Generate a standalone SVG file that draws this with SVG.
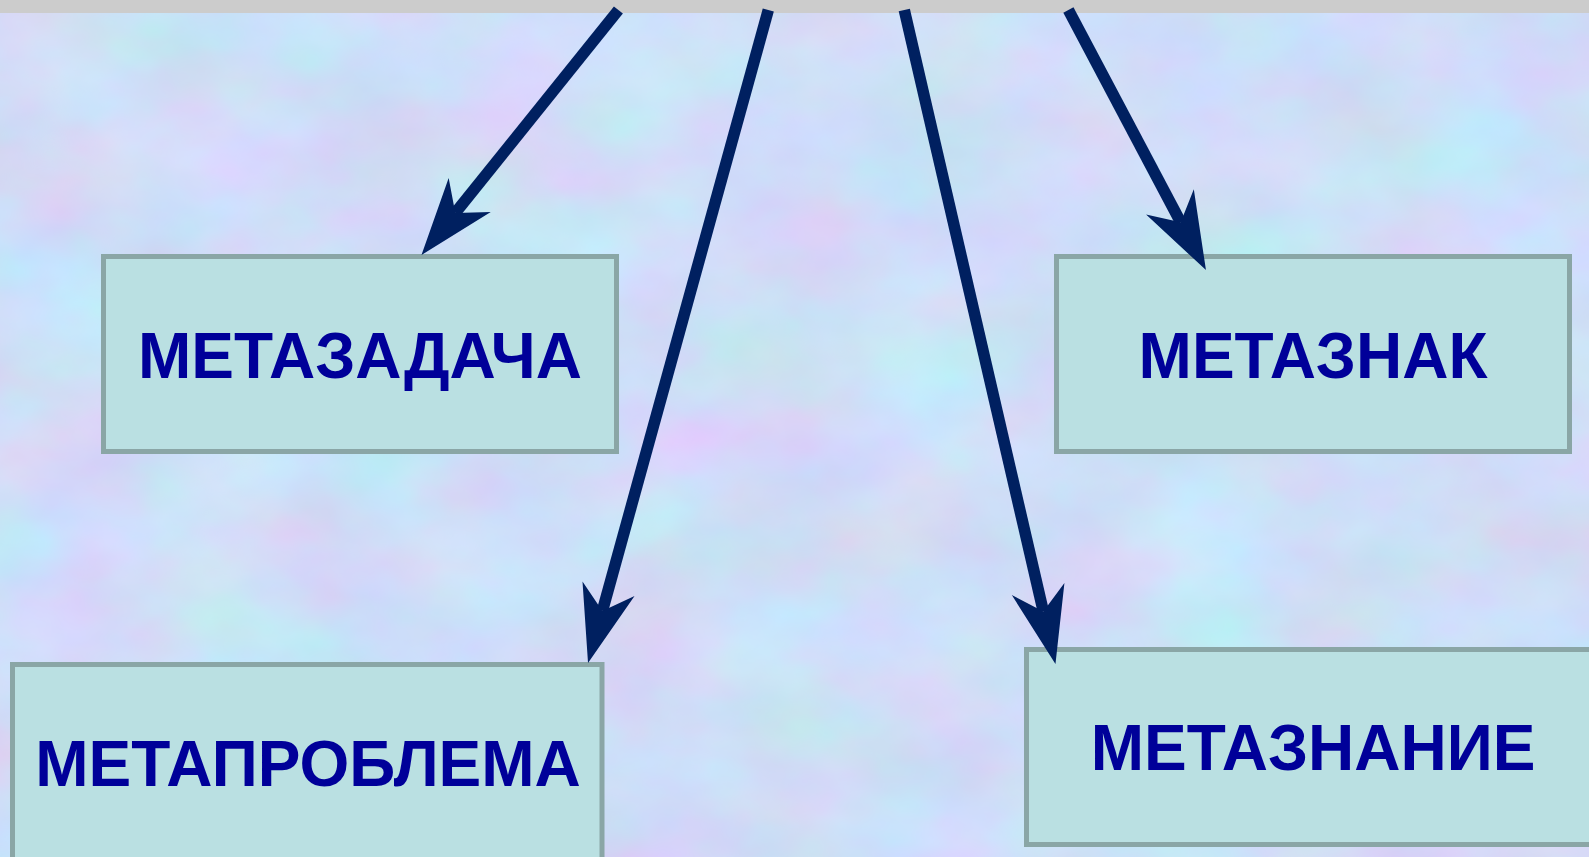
<svg xmlns="http://www.w3.org/2000/svg" width="1589" height="857" viewBox="0 0 1589 857">
  <style>
    .box { fill: #bae0e2; stroke: #8aa6a6; stroke-width: 5; }
    .lbl { font-family: "Liberation Sans", Arial, sans-serif; font-weight: bold; font-size: 64px; fill: #000099; text-anchor: middle; }
    .conn { stroke: #002060; stroke-width: 11.5; fill: none; marker-end: url(#stealth); }
  </style>
  <defs>
    <filter id="tex" x="0" y="0" width="1589" height="857" filterUnits="userSpaceOnUse" color-interpolation-filters="sRGB">
      <feTurbulence type="fractalNoise" baseFrequency="0.007 0.01" numOctaves="4" seed="11" result="n"/>
      <feColorMatrix in="n" type="matrix" values="0.16 -0.08 0 0 0.77  -0.06 0.16 0 0 0.82  0 0 0.1 0 0.92  0 0 0 0 1"/>
    </filter>
    <marker id="stealth" markerUnits="userSpaceOnUse" orient="auto" refX="0" refY="0" viewBox="-25 -29 82 58" markerWidth="82" markerHeight="58" overflow="visible">
      <path d="M54,0 L-23,-27 L0,0 L-23,27 Z" fill="#002060"/>
    </marker>
  </defs>

  <rect x="0" y="0" width="1589" height="857" fill="#cfdcf8"/>
  <rect x="0" y="0" width="1589" height="857" filter="url(#tex)"/>
  <rect x="0" y="0" width="1589" height="13" fill="#cccccc"/>

  <g id="node-metazadacha">
    <rect class="box" x="103.5" y="256.5" width="513" height="195"/>
    <text class="lbl" x="360" y="378">МЕТАЗАДАЧА</text>
  </g>
  <g id="node-metaznak">
    <rect class="box" x="1056.5" y="256.5" width="513" height="195"/>
    <text class="lbl" x="1313" y="378">МЕТАЗНАК</text>
  </g>
  <g id="node-metaproblema">
    <rect class="box" x="12.5" y="664.5" width="589.5" height="250"/>
    <text class="lbl" x="308" y="786">МЕТАПРОБЛЕМА</text>
  </g>
  <g id="node-metaznanie">
    <rect class="box" x="1026.5" y="649.5" width="600" height="195"/>
    <text class="lbl" x="1313" y="770">МЕТАЗНАНИЕ</text>
  </g>

  <g id="connectors">
    <line class="conn" x1="618.4" y1="10" x2="455.3" y2="212.9"/>
    <line class="conn" x1="768.3" y1="10" x2="602.4" y2="610.9"/>
    <line class="conn" x1="904.3" y1="10" x2="1043.3" y2="611.4"/>
    <line class="conn" x1="1068.4" y1="10" x2="1180.7" y2="222.3"/>
  </g>
</svg>
